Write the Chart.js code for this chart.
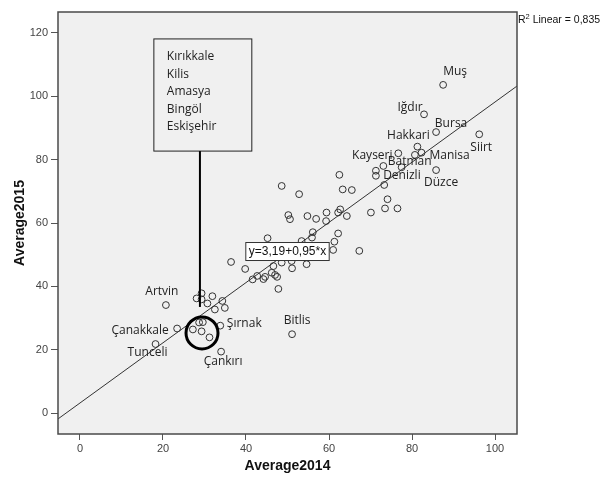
<!DOCTYPE html>
<html>
<head>
<meta charset="utf-8">
<script src="https://cdn.jsdelivr.net/npm/chart.js@4.4.1/dist/chart.umd.min.js"></script>
<style>
  html, body { margin: 0; padding: 0; background: #fff; }
  canvas { display: block; }
</style>
</head>
<body>
<canvas id="scatter" width="601" height="477"></canvas>
<script>
// --- data ---
const avg2014 = [
  87.5, 82.9, 85.8, 96.2, 81.3, 80.7, 82.3, 76.7, 77.5, 85.8,
  73.1, 71.3, 71.3, 73.3, 62.5, 63.3, 65.5, 48.6, 52.8, 74.1,
  73.5, 76.5, 70.1, 50.2, 50.6, 54.8, 56.9, 59.4, 59.3, 62.7,
  62.2, 64.3, 56.1, 55.9, 62.2, 61.3, 61.0, 67.3, 53.4, 45.2,
  36.4, 39.8, 41.6, 42.7, 44.2, 44.6, 46.2, 46.6, 47.0, 47.5,
  47.8, 48.6, 51.0, 51.1, 54.6, 20.7, 28.1, 29.3, 29.3, 31.9,
  30.7, 34.3, 34.9, 32.5, 23.4, 27.2, 28.7, 29.6, 29.3, 31.2,
  33.8, 18.2, 34.0, 51.1
];
const avg2015 = [
  103.6, 94.3, 88.7, 88.0, 84.1, 81.5, 82.2, 82.0, 77.6, 76.7,
  78.0, 76.5, 74.9, 72.0, 75.2, 70.6, 70.4, 71.7, 69.1, 67.5,
  64.6, 64.6, 63.3, 62.5, 61.2, 62.2, 61.3, 63.3, 60.6, 64.3,
  63.3, 62.2, 57.1, 55.4, 56.7, 54.1, 51.5, 51.2, 54.3, 55.2,
  47.7, 45.5, 42.2, 43.3, 42.3, 43.0, 44.3, 46.4, 43.6, 43.0,
  39.2, 47.5, 48.0, 45.7, 47.0, 34.1, 36.2, 37.8, 35.9, 36.9,
  34.6, 35.4, 33.2, 32.7, 26.7, 26.4, 28.6, 28.7, 25.8, 23.9,
  27.6, 21.8, 19.4, 24.9
];
const provinceNames = [
  'Muş', 'Iğdır', 'Bursa', 'Siirt', 'Hakkari', '', 'Manisa', 'Kayseri', 'Batman', 'Düzce',
  '', '', 'Denizli', '', '', '', '', '', '', '',
  '', '', '', '', '', '', '', '', '', '',
  '', '', '', '', '', '', '', '', '', '',
  '', '', '', '', '', '', '', '', '', '',
  '', '', '', '', '', 'Artvin', '', '', '', '',
  '', '', '', '', 'Çanakkale', '', '', '', '', '',
  'Şırnak', 'Tunceli', 'Çankırı', 'Bitlis'
];
const boxNames = ['Kırıkkale', 'Kilis', 'Amasya', 'Bingöl', 'Eskişehir'];
const xTicks = [0, 20, 40, 60, 80, 100];
const yTicks = [0, 20, 40, 60, 80, 100, 120];
const fitIntercept = 3.19;
const fitSlope = 0.95;
const rSquaredText = '0,835';
const equationText = 'y=3,19+0,95*x';

// axis extents
const X_MIN = -5.3, X_MAX = 105.3;
const Y_MIN = -6.6, Y_MAX = 126.6;

// where the name labels sit relative to their point (px)
const labelOffset = {
  'Muş': [12, -13], 'Iğdır': [-14, -7], 'Bursa': [15, -8], 'Hakkari': [-9, -11],
  'Siirt': [2, 13], 'Kayseri': [-26, 2], 'Batman': [8, -6], 'Manisa': [28, 3],
  'Denizli': [26, 0], 'Düzce': [5, 12], 'Artvin': [-4, -13], 'Çanakkale': [-37, 2],
  'Tunceli': [-8, 9], 'Şırnak': [24, -2], 'Çankırı': [2, 10], 'Bitlis': [5, -14]
};

const LABEL_FONT = '12px "Open Sans", "Noto Sans", sans-serif';
const ARIAL = '"Liberation Sans", Arial, sans-serif';

const points = avg2014.map((x, i) => ({ x: x, y: avg2015[i] }));
const fitLine = [X_MIN, X_MAX].map(x => ({ x: x, y: fitIntercept + fitSlope * x }));

// plot background, frame and all annotations
const spssDecor = {
  id: 'spssDecor',
  beforeDraw(chart) {
    const { ctx, chartArea: a } = chart;
    ctx.save();
    ctx.fillStyle = '#f0f0f0';
    ctx.fillRect(a.left, a.top, a.right - a.left, a.bottom - a.top);
    ctx.restore();
  },
  afterDatasetsDraw(chart) {
    const { ctx, chartArea: a, scales } = chart;
    const px = v => scales.x.getPixelForValue(v);
    const py = v => scales.y.getPixelForValue(v);
    ctx.save();

    // frame
    ctx.strokeStyle = '#4a4a4a';
    ctx.lineWidth = 1.5;
    ctx.strokeRect(a.left, a.top, a.right - a.left, a.bottom - a.top);

    // province labels
    ctx.font = LABEL_FONT;
    ctx.fillStyle = '#222';
    ctx.textAlign = 'center';
    ctx.textBaseline = 'middle';
    provinceNames.forEach((name, i) => {
      if (!name) return;
      const off = labelOffset[name] || [0, -10];
      ctx.fillText(name, px(avg2014[i]) + off[0], py(avg2015[i]) + off[1]);
    });

    // box of names with pointer line
    const bx0 = px(17.8), bx1 = px(41.4), by0 = py(118.1), by1 = py(82.7);
    ctx.fillStyle = '#f0f0f0';
    ctx.fillRect(bx0, by0, bx1 - bx0, by1 - by0);
    ctx.strokeStyle = '#222';
    ctx.lineWidth = 1;
    ctx.strokeRect(bx0, by0, bx1 - bx0, by1 - by0);
    ctx.fillStyle = '#222';
    ctx.textAlign = 'left';
    boxNames.forEach((n, i) => ctx.fillText(n, bx0 + 13, by0 + 18 + i * 17.5));

    ctx.strokeStyle = '#000';
    ctx.lineWidth = 2;
    ctx.beginPath();
    ctx.moveTo(px(28.9), by1);
    ctx.lineTo(px(28.9), py(33.5));
    ctx.stroke();

    ctx.lineWidth = 3;
    ctx.beginPath();
    ctx.arc(px(29.4), py(25.3), 16, 0, Math.PI * 2);
    ctx.stroke();

    // equation box
    ctx.font = '12px ' + ARIAL;
    const ew = ctx.measureText(equationText).width + 6;
    const ex = px(50.0), ey = py(51.0);
    ctx.fillStyle = '#fff';
    ctx.fillRect(ex - ew / 2, ey - 9, ew, 18);
    ctx.strokeStyle = '#333';
    ctx.lineWidth = 1;
    ctx.strokeRect(ex - ew / 2, ey - 9, ew, 18);
    ctx.fillStyle = '#111';
    ctx.textAlign = 'center';
    ctx.fillText(equationText, ex, ey + 0.5);

    // R² note
    ctx.textAlign = 'left';
    ctx.font = '10.5px ' + ARIAL;
    let tx = a.right + 1;
    const ty = a.top + 8;
    ctx.fillText('R', tx, ty);
    tx += ctx.measureText('R').width;
    ctx.font = '7.5px ' + ARIAL;
    ctx.fillText('2', tx, ty - 3);
    tx += ctx.measureText('2').width;
    ctx.font = '10.5px ' + ARIAL;
    ctx.fillText(' Linear = ' + rSquaredText, tx, ty);

    ctx.restore();
  }
};

new Chart(document.getElementById('scatter'), {
  type: 'scatter',
  data: {
    datasets: [{
      label: 'Average2015',
      data: points,
      pointRadius: 3.4,
      pointBorderWidth: 1,
      pointBorderColor: '#333',
      pointBackgroundColor: 'rgba(0,0,0,0)',
      order: 1
    }, {
      type: 'line',
      label: 'Fit',
      data: fitLine,
      borderColor: '#333',
      borderWidth: 1,
      pointRadius: 0,
      fill: false,
      order: 2
    }]
  },
  options: {
    responsive: false,
    animation: false,
    devicePixelRatio: 1,
    layout: { padding: { top: 12, right: 84, left: 0, bottom: 0 } },
    plugins: {
      legend: { display: false },
      tooltip: { enabled: false }
    },
    scales: {
      x: {
        type: 'linear',
        min: X_MIN,
        max: X_MAX,
        afterFit: s => { s.height = 43; },
        afterBuildTicks: s => { s.ticks = xTicks.map(v => ({ value: v })); },
        grid: { drawOnChartArea: false, drawTicks: true, tickLength: 6, color: '#555' },
        border: { display: false },
        ticks: { color: '#444', padding: 2, font: { family: ARIAL, size: 11 } },
        title: {
          display: true,
          text: 'Average2014',
          color: '#111',
          font: { family: ARIAL, size: 14, weight: 'bold' },
          padding: { top: 0, bottom: 2 }
        }
      },
      y: {
        type: 'linear',
        min: Y_MIN,
        max: Y_MAX,
        afterFit: s => { s.width = 58; },
        afterBuildTicks: s => { s.ticks = yTicks.map(v => ({ value: v })); },
        grid: { drawOnChartArea: false, drawTicks: true, tickLength: 7, color: '#555' },
        border: { display: false },
        ticks: { color: '#444', padding: 3, font: { family: ARIAL, size: 11 } },
        title: {
          display: true,
          text: 'Average2015',
          color: '#111',
          font: { family: ARIAL, size: 14, weight: 'bold' },
          padding: { top: 12, bottom: 0 }
        }
      }
    }
  },
  plugins: [spssDecor]
});
</script>
</body>
</html>
